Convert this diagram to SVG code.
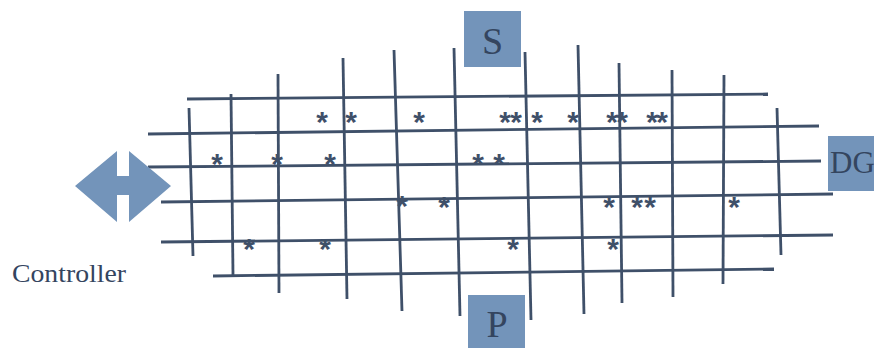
<svg xmlns="http://www.w3.org/2000/svg" width="874" height="348" viewBox="0 0 874 348">
<style>
.g line{stroke:#3f5069;stroke-width:2.8;stroke-linecap:butt}
.st{font-family:"Liberation Sans",Arial,sans-serif;font-weight:bold;font-size:30px;fill:#3f5069;text-anchor:middle}
.box{fill:#7394ba}
.lbl{font-family:"Liberation Serif","Times New Roman",serif;fill:#34455f}
</style>
<rect width="874" height="348" fill="#fff"/>
<g id="grid" class="g">
<line x1="187" y1="99" x2="768" y2="94"/>
<line x1="148" y1="134" x2="819" y2="126"/>
<line x1="148" y1="167" x2="821" y2="161"/>
<line x1="161" y1="202" x2="833" y2="194"/>
<line x1="161" y1="242" x2="833" y2="235"/>
<line x1="213" y1="276" x2="774" y2="269"/>
<line x1="189" y1="108" x2="193" y2="256"/>
<line x1="231" y1="94" x2="233" y2="275"/>
<line x1="278" y1="74" x2="279" y2="293"/>
<line x1="343" y1="58" x2="347" y2="299"/>
<line x1="394" y1="50" x2="402" y2="311"/>
<line x1="454" y1="48" x2="460" y2="316"/>
<line x1="525" y1="52" x2="531" y2="320"/>
<line x1="578" y1="45" x2="584" y2="314"/>
<line x1="619" y1="63" x2="622" y2="303"/>
<line x1="672" y1="70" x2="673" y2="297"/>
<line x1="724" y1="75" x2="723" y2="284"/>
<line x1="777" y1="108" x2="781" y2="255"/>
</g>
<g id="stars" class="st">
<text x="322" y="132">*</text><text x="351" y="132">*</text><text x="419" y="132">*</text>
<text x="505" y="132">*</text><text x="516" y="132">*</text><text x="537" y="132">*</text>
<text x="573" y="132">*</text><text x="612" y="132">*</text><text x="622" y="132">*</text>
<text x="652" y="132">*</text><text x="662" y="132">*</text>
<text x="217" y="174">*</text><text x="277" y="174">*</text><text x="330" y="174">*</text>
<text x="478" y="174">*</text><text x="499" y="174">*</text>
<text x="402" y="216">*</text><text x="444" y="217">*</text><text x="609" y="217">*</text>
<text x="637" y="217">*</text><text x="650" y="217">*</text><text x="734" y="217">*</text>
<text x="249" y="259">*</text><text x="325" y="259">*</text><text x="513" y="259">*</text><text x="613" y="259">*</text>
</g>
<g id="S">
<rect class="box" x="464" y="11" width="57" height="56"/>
<text class="lbl" x="492.5" y="54" font-size="38" text-anchor="middle">S</text>
</g>
<g id="P">
<rect class="box" x="468" y="295" width="57" height="53"/>
<text class="lbl" x="497" y="337" font-size="38" text-anchor="middle">P</text>
</g>
<g id="DG">
<rect class="box" x="828" y="136" width="50" height="55"/>
<text class="lbl" x="830" y="173" font-size="31">DG</text>
</g>
<g id="Controller">
<polygon fill="#7394ba" points="75,186 117,151 117,176 129,176 129,151 171,186 129,222 129,195 117,195 117,222"/>
<text class="lbl" x="12" y="282" font-size="26" textLength="114" lengthAdjust="spacingAndGlyphs">Controller</text>
</g>
</svg>
